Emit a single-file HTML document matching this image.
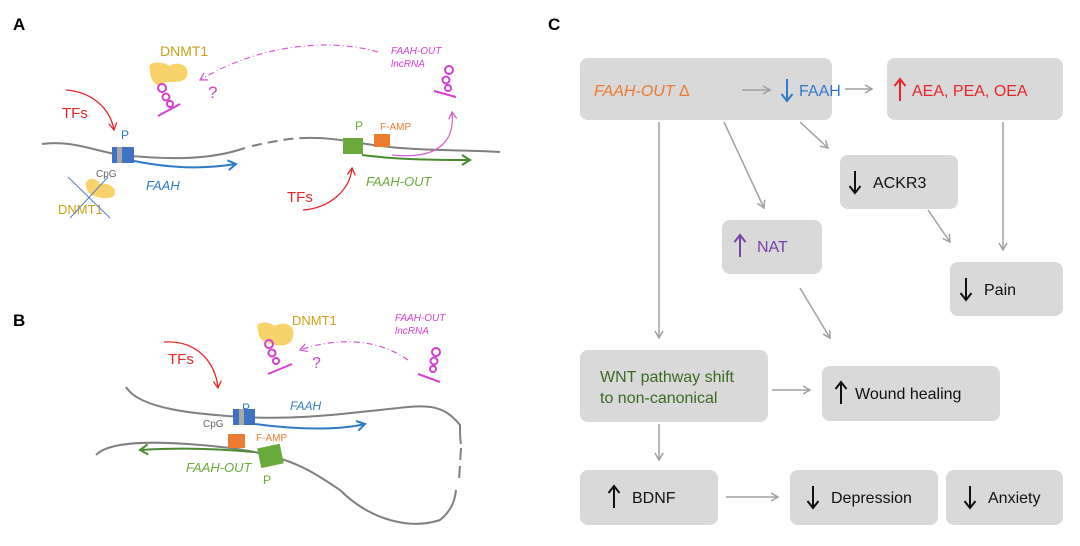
<!DOCTYPE html>
<html><head><meta charset="utf-8"><style>
html,body{margin:0;padding:0;background:#fff;}
svg{display:block;font-family:"Liberation Sans",sans-serif;}
</style></head><body>
<svg width="1080" height="546" viewBox="0 0 1080 546" xmlns="http://www.w3.org/2000/svg">
<defs>
<marker id="ag" markerWidth="10" markerHeight="10" refX="8" refY="5" orient="auto" markerUnits="userSpaceOnUse"><path d="M1,1 L8,5 L1,9" fill="none" stroke="#a0a0a0" stroke-width="1.5"/></marker>
<marker id="ar" markerWidth="10" markerHeight="10" refX="8" refY="5" orient="auto" markerUnits="userSpaceOnUse"><path d="M1,1 L8,5 L1,9" fill="none" stroke="#e8262a" stroke-width="1.3"/></marker>
<marker id="ab" markerWidth="12" markerHeight="12" refX="9" refY="6" orient="auto" markerUnits="userSpaceOnUse"><path d="M1,1 L9,6 L1,11" fill="none" stroke="#2f7bc8" stroke-width="2"/></marker>
<marker id="agr" markerWidth="12" markerHeight="12" refX="9" refY="6" orient="auto" markerUnits="userSpaceOnUse"><path d="M1,1 L9,6 L1,11" fill="none" stroke="#4a8a30" stroke-width="2"/></marker>
<marker id="am" markerWidth="10" markerHeight="10" refX="8" refY="5" orient="auto" markerUnits="userSpaceOnUse"><path d="M1,1 L8,5 L1,9" fill="none" stroke="#d85bd0" stroke-width="1.3"/></marker>
<path id="up" d="M0,11 L0,-11 M-5.5,-4 L0,-11 L5.5,-4" fill="none" stroke-width="2"/>
<path id="dn" d="M0,-11 L0,11 M-5.5,4 L0,11 L5.5,4" fill="none" stroke-width="2"/>
</defs>

<text x="13" y="30" font-size="17" font-weight="bold">A</text>
<text x="13" y="326" font-size="17" font-weight="bold">B</text>
<text x="548" y="30" font-size="17" font-weight="bold">C</text>

<!-- ===== Panel A ===== -->
<text x="160" y="56" font-size="14" fill="#c9a21a">DNMT1</text>
<path d="M150,70 C146,62 160,60 170,66 C178,60 192,66 186,78 C178,86 166,78 160,86 C152,84 150,76 150,70Z" fill="#f8d36a"/>
<g stroke="#d53fcf" stroke-width="2" fill="none">
<circle cx="162" cy="88" r="4"/><circle cx="166" cy="97" r="3.5"/><circle cx="170" cy="104" r="3"/>
<path d="M158,116 L180,104"/>
</g>
<path d="M378,52 C330,38 260,44 200,80" fill="none" stroke="#d85bd0" stroke-width="1.2" stroke-dasharray="6,3,1,3" marker-end="url(#am)"/>
<text x="208" y="98" font-size="17" fill="#d53fcf">?</text>
<text x="391" y="54" font-size="10" font-style="italic" fill="#d53fcf">FAAH-OUT</text>
<text x="391" y="67" font-size="10" font-style="italic" fill="#d53fcf">lncRNA</text>
<g stroke="#d53fcf" stroke-width="2" fill="none">
<circle cx="449" cy="70" r="4"/><circle cx="446" cy="80" r="3.5"/><circle cx="448" cy="88" r="3"/>
<path d="M434,91 L456,97"/>
</g>
<text x="62" y="118" font-size="15" fill="#e8262a">TFs</text>
<path d="M66,90 C92,92 110,108 114,130" fill="none" stroke="#e8262a" stroke-width="1.3" marker-end="url(#ar)"/>
<text x="121" y="139" font-size="12" fill="#2f7bc8">P</text>
<path d="M42,144 C70,140 92,150 120,155 C170,160 210,160 245,148" fill="none" stroke="#808080" stroke-width="2"/>
<path d="M252,146 C270,142 290,138 305,138" fill="none" stroke="#808080" stroke-width="2" stroke-dasharray="10,6"/>
<path d="M305,138 C340,137 360,145 400,148 C440,151 470,150 500,152" fill="none" stroke="#808080" stroke-width="2"/>
<rect x="112" y="147" width="22" height="16" fill="#3f72c4"/>
<rect x="117" y="147" width="5" height="16" fill="#a8a8a8"/>
<path d="M134,161 C180,170 210,168 236,164" fill="none" stroke="#2f7bc8" stroke-width="2" marker-end="url(#ab)"/>
<text x="96" y="177" font-size="10" fill="#666">CpG</text>
<text x="146" y="190" font-size="13" font-style="italic" fill="#2f7bc8">FAAH</text>
<path d="M86,186 C84,178 96,176 100,184 C108,182 118,188 114,196 C108,200 100,198 94,196 C88,194 87,190 86,186Z" fill="#f8d36a"/>
<text x="58" y="214" font-size="13" fill="#c9a21a">DNMT1</text>
<path d="M68,177 L110,218 M108,177 L70,218" stroke="#5b7fc6" stroke-width="1"/>
<text x="355" y="130" font-size="12" fill="#6aaa3a">P</text>
<text x="380" y="130" font-size="10" fill="#ec7c30">F-AMP</text>
<rect x="343" y="138" width="20" height="16" fill="#6aaa3a"/>
<rect x="374" y="134" width="16" height="13" fill="#ec7c30"/>
<path d="M362,155 C400,160 440,160 470,160" fill="none" stroke="#4a8a30" stroke-width="2" marker-end="url(#agr)"/>
<path d="M392,155 C440,160 455,140 452,112" fill="none" stroke="#d85bd0" stroke-width="1.2" marker-end="url(#am)"/>
<text x="366" y="186" font-size="13" font-style="italic" fill="#6aaa3a">FAAH-OUT</text>
<text x="287" y="202" font-size="15" fill="#e8262a">TFs</text>
<path d="M303,210 C330,208 350,190 352,168" fill="none" stroke="#e8262a" stroke-width="1.3" marker-end="url(#ar)"/>

<!-- ===== Panel B ===== -->
<path d="M258,330 C254,322 266,320 275,326 C285,320 298,326 292,340 C286,350 270,344 262,340 C258,336 259,334 258,330Z" fill="#f8d36a"/>
<text x="292" y="325" font-size="13" fill="#c9a21a">DNMT1</text>
<g stroke="#d53fcf" stroke-width="2" fill="none">
<circle cx="269" cy="344" r="4"/><circle cx="272" cy="353" r="3.5"/><circle cx="276" cy="361" r="3"/>
<path d="M268,374 L292,364"/>
</g>
<path d="M408,360 C380,340 340,336 300,350" fill="none" stroke="#d85bd0" stroke-width="1.2" stroke-dasharray="6,3,1,3" marker-end="url(#am)"/>
<text x="312" y="368" font-size="16" fill="#d53fcf">?</text>
<text x="395" y="321" font-size="10" font-style="italic" fill="#d53fcf">FAAH-OUT</text>
<text x="395" y="334" font-size="10" font-style="italic" fill="#d53fcf">lncRNA</text>
<g stroke="#d53fcf" stroke-width="2" fill="none">
<circle cx="436" cy="352" r="4"/><circle cx="434" cy="361" r="3.5"/><circle cx="433" cy="369" r="3"/>
<path d="M418,374 L440,382"/>
</g>
<text x="168" y="364" font-size="15" fill="#e8262a">TFs</text>
<path d="M164,342 C195,340 215,360 218,388" fill="none" stroke="#e8262a" stroke-width="1.3" marker-end="url(#ar)"/>
<text x="242" y="412" font-size="12" fill="#2f7bc8">P</text>
<text x="290" y="410" font-size="12" font-style="italic" fill="#2f7bc8">FAAH</text>
<path d="M126,387 C140,410 200,414 240,417 C300,420 340,414 380,410 C420,406 440,400 460,425 C460,432 460,440 461,444" fill="none" stroke="#808080" stroke-width="2"/>
<path d="M461,448 L459,480" stroke="#808080" stroke-width="2" stroke-dasharray="12,6"/>
<path d="M96,455 C110,440 160,440 230,448 C290,456 310,470 340,490 C370,520 410,530 440,520 C452,510 455,500 456,490" fill="none" stroke="#808080" stroke-width="2"/>
<rect x="233" y="409" width="22" height="16" fill="#3f72c4"/>
<rect x="239" y="409" width="5" height="16" fill="#a8a8a8"/>
<text x="203" y="427" font-size="10" fill="#666">CpG</text>
<path d="M255,424 C300,430 340,430 365,424" fill="none" stroke="#2f7bc8" stroke-width="2" marker-end="url(#ab)"/>
<rect x="228" y="434" width="17" height="14" fill="#ec7c30"/>
<text x="256" y="441" font-size="10" fill="#ec7c30">F-AMP</text>
<path d="M254,452 C210,448 170,448 140,450" fill="none" stroke="#4a8a30" stroke-width="2" marker-end="url(#agr)"/>
<rect x="259" y="446" width="23" height="20" fill="#6aaa3a" transform="rotate(-12 270 456)"/>
<text x="186" y="472" font-size="13" font-style="italic" fill="#6aaa3a">FAAH-OUT</text>
<text x="263" y="484" font-size="12" fill="#6aaa3a">P</text>

<!-- ===== Panel C ===== -->
<g fill="#d9d9d9">
<rect x="580" y="58" width="252" height="62" rx="8"/>
<rect x="887" y="58" width="176" height="62" rx="8"/>
<rect x="840" y="155" width="118" height="54" rx="8"/>
<rect x="722" y="220" width="100" height="54" rx="8"/>
<rect x="950" y="262" width="113" height="54" rx="8"/>
<rect x="580" y="350" width="188" height="72" rx="8"/>
<rect x="822" y="366" width="178" height="55" rx="8"/>
<rect x="580" y="470" width="138" height="55" rx="8"/>
<rect x="790" y="470" width="148" height="55" rx="8"/>
<rect x="946" y="470" width="117" height="55" rx="8"/>
</g>
<use href="#dn" x="787" y="90" stroke="#2f7bc8"/>
<use href="#up" x="900" y="90" stroke="#e8262a"/>
<use href="#dn" x="855" y="182" stroke="#111"/>
<use href="#up" x="740" y="246" stroke="#7a3fa6"/>
<use href="#dn" x="966" y="289" stroke="#111"/>
<use href="#up" x="841" y="393" stroke="#111"/>
<use href="#up" x="614" y="497" stroke="#111"/>
<use href="#dn" x="813" y="497" stroke="#111"/>
<use href="#dn" x="970" y="497" stroke="#111"/>
<g font-size="16">
<text x="594" y="96" fill="#ec7c30"><tspan font-style="italic">FAAH-OUT</tspan> Δ</text>
<path d="M742,90 L770,90" stroke="#a0a0a0" stroke-width="1.5" marker-end="url(#ag)"/>
<text x="799" y="96" fill="#2f7bc8">FAAH</text>
<path d="M845,89 L872,89" stroke="#a0a0a0" stroke-width="1.5" marker-end="url(#ag)"/>
<text x="912" y="96" fill="#e8262a">AEA, PEA, OEA</text>
<text x="873" y="188" fill="#111">ACKR3</text>
<text x="757" y="252" fill="#7a3fa6">NAT</text>
<text x="984" y="295" fill="#111">Pain</text>
<text x="600" y="382" fill="#3a6a20">WNT pathway shift</text>
<text x="600" y="403" fill="#3a6a20">to non-canonical</text>
<text x="855" y="399" fill="#111">Wound healing</text>
<text x="632" y="503" fill="#111">BDNF</text>
<text x="831" y="503" fill="#111">Depression</text>
<text x="988" y="503" fill="#111">Anxiety</text>
</g>
<g stroke="#a0a0a0" stroke-width="1.5" fill="none" marker-end="url(#ag)">
<path d="M659,122 L659,338"/>
<path d="M724,122 L764,208"/>
<path d="M800,122 L828,148"/>
<path d="M1003,122 L1003,250"/>
<path d="M928,210 L950,242"/>
<path d="M800,288 L830,338"/>
<path d="M772,390 L810,390"/>
<path d="M659,424 L659,460"/>
<path d="M726,497 L778,497"/>
</g>
</svg>
</body></html>
